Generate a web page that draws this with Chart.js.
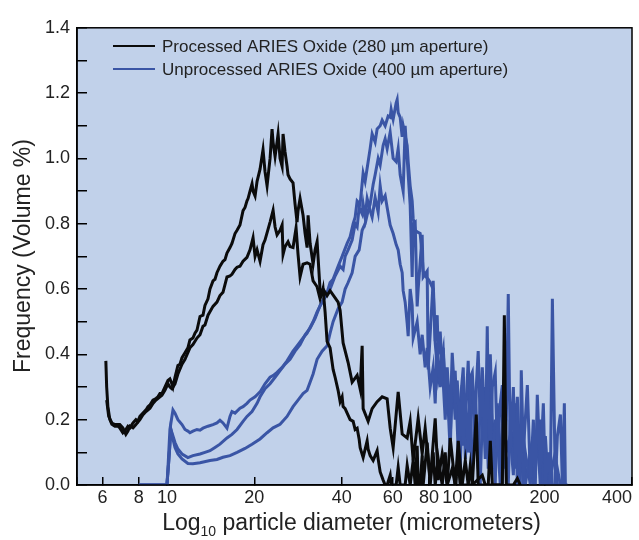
<!DOCTYPE html>
<html>
<head>
<meta charset="utf-8">
<script src="https://cdn.jsdelivr.net/npm/chart.js@4/dist/chart.umd.min.js"></script>
<style>
  html, body { margin: 0; padding: 0; background: #fff; }
  canvas { display: block; }
</style>
</head>
<body>
<canvas id="grafico" width="639" height="540"></canvas>
<script>
"use strict"

// [diametro (µm), frecuencia (% volumen)]
const procesado1 = [[6.16,0.38],[6.2,0.30],[6.26,0.24],[6.36,0.20],[6.46,0.186],[6.62,0.18],[6.78,0.18],[6.88,0.175],[7.05,0.16],[7.22,0.17],[7.34,0.18],[7.46,0.175],[7.64,0.19],[7.82,0.2],[7.94,0.195],[8.07,0.21],[8.27,0.22],[8.47,0.23],[8.6,0.24],[8.74,0.245],[8.95,0.26],[9.17,0.265],[9.31,0.27],[9.46,0.28],[9.61,0.28],[9.84,0.30],[10.08,0.32],[10.24,0.325],[10.4,0.31],[10.49,0.30],[10.66,0.33],[10.91,0.366],[11.09,0.37],[11.27,0.39],[11.54,0.405],[11.81,0.42],[12.0,0.444],[12.29,0.45],[12.49,0.465],[12.69,0.474],[13.0,0.516],[13.31,0.52],[13.52,0.55],[13.85,0.57],[14.07,0.6],[14.41,0.625],[14.64,0.63],[14.87,0.65],[15.23,0.67],[15.6,0.685],[15.85,0.69],[16.1,0.71],[16.49,0.727],[16.75,0.74],[17.16,0.77],[17.44,0.78],[17.85,0.796],[18.29,0.84],[18.58,0.85],[18.87,0.87],[19.03,0.877],[19.33,0.9],[19.64,0.922],[19.8,0.9],[20.12,0.885],[20.44,0.93],[20.93,0.967],[21.43,1.027],[21.77,0.96],[22.13,0.916],[22.66,1.0],[23.02,1.09],[23.21,1.05],[23.58,1.006],[23.95,1.05],[24.15,1.075],[24.53,1.0],[24.93,0.976],[25.12,1.075],[25.52,1.02],[25.93,0.976],[26.13,0.95],[26.55,0.937],[27.19,0.925],[27.63,0.86],[28.07,0.805],[28.29,0.84],[28.75,0.877],[29.44,0.826],[29.92,0.77],[30.4,0.727],[30.64,0.826],[31.13,0.74],[31.88,0.676],[32.39,0.72],[32.91,0.745],[33.7,0.595],[34.24,0.586],[34.51,0.6],[35.06,0.53],[35.62,0.44],[36.48,0.42],[37.36,0.354],[37.96,0.33],[38.87,0.29],[39.5,0.255],[40.13,0.27],[40.45,0.24],[41.1,0.234],[41.76,0.22],[42.76,0.2],[43.8,0.195],[44.5,0.17],[45.21,0.174],[45.94,0.14],[46.3,0.114],[47.41,0.084],[48.17,0.11],[48.94,0.135],[49.33,0.11],[50.12,0.09],[51.33,0.075],[52.15,0.09],[52.98,0.105],[53.41,0.08],[54.27,0.04],[55.57,0.015],[56.46,0],[57.36,0],[58.75,0.03],[59.21,0],[61.61,0],[62.6,0.054],[63.6,0],[66.17,0],[67.23,0.06],[68.85,0],[70.51,0.075],[71.64,0],[72.78,0.12],[73.36,0],[74.53,0],[75.73,0.09],[76.33,0],[78.79,0.13],[80.7,0],[82.64,0.1],[83.97,0],[86.0,0.08],[88.78,0],[90.92,0.1],[92.37,0],[96.1,0.05],[98.4,0],[100.8,0.07],[102.4,0],[109.1,0],[110.9,0.06],[112.7,0],[122.0,0.03],[124.9,0],[140.7,0]];

const procesado2 = [[6.2,0.26],[6.3,0.21],[6.46,0.19],[6.62,0.185],[6.88,0.185],[7.05,0.175],[7.22,0.155],[7.34,0.165],[7.46,0.18],[7.64,0.175],[7.82,0.185],[8.07,0.2],[8.27,0.215],[8.47,0.225],[8.74,0.235],[8.95,0.25],[9.17,0.26],[9.46,0.27],[9.61,0.275],[9.84,0.29],[10.08,0.31],[10.24,0.3],[10.4,0.295],[10.66,0.31],[10.91,0.34],[11.27,0.37],[11.54,0.385],[12.0,0.42],[12.29,0.43],[12.69,0.45],[13.0,0.46],[13.31,0.486],[13.52,0.49],[13.85,0.52],[14.41,0.547],[14.87,0.56],[15.23,0.58],[15.6,0.59],[16.1,0.637],[16.49,0.64],[16.75,0.645],[17.16,0.66],[17.44,0.667],[17.85,0.67],[18.29,0.685],[18.87,0.697],[19.33,0.72],[19.8,0.757],[20.12,0.7],[20.44,0.72],[20.93,0.685],[21.43,0.736],[21.77,0.75],[22.66,0.805],[23.21,0.841],[23.58,0.79],[23.95,0.766],[24.53,0.78],[24.93,0.796],[25.12,0.706],[25.52,0.73],[26.13,0.745],[26.55,0.73],[27.19,0.727],[27.85,0.787],[28.29,0.706],[28.75,0.637],[29.44,0.676],[30.4,0.68],[31.13,0.676],[31.88,0.625],[32.91,0.607],[33.7,0.57],[34.51,0.6],[35.62,0.58],[36.48,0.595],[38.87,0.56],[39.5,0.535],[40.45,0.435],[42.09,0.375],[43.45,0.315],[45.21,0.336],[46.3,0.294],[47.04,0.426],[47.41,0.234],[49.33,0.195],[50.92,0.234],[52.98,0.255],[55.13,0.27],[57.36,0.264],[58.75,0.174],[60.16,0.114],[62.6,0.285],[64.62,0.156],[67.23,0.144],[68.85,0.195],[70.51,0.075],[73.36,0.204],[75.73,0.096],[77.55,0.174],[80.7,0.015],[83.97,0.204],[86.0,0.015],[88.78,0.096],[92.37,0],[94.6,0.144],[98.4,0],[100.8,0.135],[104.0,0],[106.6,0.075],[109.1,0],[112.7,0],[116.3,0.216],[118.1,0],[127.9,0],[130.0,0.135],[132.1,0],[143.0,0],[145.3,0.52],[147.6,0],[156.1,0],[161.1,0.02],[164.9,0]];

const sinProcesar1 = [[8.0,0],[10.0,0],[10.08,0.05],[10.24,0.17],[10.49,0.23],[10.66,0.22],[10.91,0.2],[11.27,0.185],[11.54,0.17],[11.81,0.165],[12.0,0.16],[12.29,0.165],[12.69,0.17],[13.0,0.168],[13.31,0.174],[13.85,0.18],[14.41,0.185],[14.87,0.19],[15.23,0.198],[15.6,0.19],[16.1,0.174],[16.49,0.21],[16.75,0.225],[17.16,0.22],[17.85,0.235],[18.29,0.24],[18.87,0.25],[19.33,0.26],[20.12,0.27],[20.93,0.285],[21.77,0.31],[22.66,0.33],[23.21,0.335],[23.95,0.345],[24.93,0.36],[25.93,0.38],[27.19,0.41],[28.29,0.43],[29.44,0.45],[30.4,0.465],[31.88,0.5],[32.91,0.53],[34.24,0.56],[35.62,0.59],[36.48,0.62],[37.36,0.63],[38.87,0.67],[40.13,0.7],[41.76,0.74],[42.76,0.76],[43.8,0.8],[44.5,0.82],[45.21,0.87],[46.3,0.86],[47.41,0.955],[48.17,0.93],[49.33,0.99],[50.12,1.03],[50.92,1.075],[52.15,1.05],[52.98,1.09],[54.27,1.1],[55.13,1.117],[56.46,1.1],[57.82,1.13],[58.75,1.126],[59.21,1.15],[60.16,1.12],[61.61,1.17],[62.1,1.18],[62.6,1.14],[63.6,1.126],[64.62,1.066],[65.13,1.1],[66.17,1.07],[67.23,1.04],[67.77,0.99],[68.85,0.916],[69.95,0.87],[70.51,0.817],[71.64,0.78],[72.78,0.775],[74.53,0.77],[75.73,0.7],[76.33,0.655],[77.55,0.64],[79.43,0.63],[80.7,0.62],[82.64,0.6],[83.97,0.44],[85.31,0.52],[86.0,0.4],[87.38,0.47],[88.78,0.35],[89.49,0.42],[90.92,0.3],[92.37,0.36],[94.6,0.2],[96.1,0.405],[98.4,0.25],[100.0,0.32],[102.4,0.15],[104.0,0.306],[104.9,0.12],[106.6,0.28],[109.1,0.1],[110.9,0.33],[112.7,0.345],[115.4,0.15],[116.3,0.3],[118.1,0.41],[120.0,0.2],[122.0,0.3],[124.9,0.08],[126.9,0.486],[127.9,0.25],[130.0,0.1],[132.1,0.3],[135.2,0.345],[137.4,0.1],[140.7,0.25],[143.0,0.306],[145.3,0.05],[147.6,0.2],[149.9,0.585],[152.3,0.1],[156.1,0.3],[158.5,0.05],[161.1,0.2],[164.9,0],[166.2,0.351],[168.9,0.1],[171.6,0.2],[174.4,0.306],[178.6,0.02],[182.9,0.15],[185.8,0],[188.7,0.276],[193.3,0.05],[198.0,0.25],[201.2,0],[206.0,0.1],[209.3,0],[212.7,0.57],[217.8,0],[221.3,0.15],[226.7,0.216],[230.3,0],[233.9,0.25],[235.8,0],[239.5,0]];

const sinProcesar2 = [[8.0,0],[10.0,0],[10.16,0.08],[10.32,0.17],[10.49,0.15],[10.66,0.13],[10.91,0.11],[11.27,0.095],[11.81,0.084],[12.29,0.09],[13.0,0.095],[13.52,0.1],[14.07,0.105],[14.64,0.115],[15.23,0.125],[16.1,0.144],[16.75,0.155],[17.44,0.17],[18.29,0.195],[18.87,0.21],[19.64,0.225],[20.44,0.25],[20.93,0.27],[21.77,0.295],[22.66,0.31],[23.58,0.33],[24.53,0.35],[25.52,0.37],[26.55,0.385],[27.63,0.41],[28.75,0.43],[29.92,0.46],[31.13,0.48],[32.39,0.51],[33.7,0.55],[35.06,0.575],[36.48,0.6],[37.96,0.64],[39.5,0.67],[40.45,0.66],[41.1,0.7],[42.09,0.72],[43.45,0.75],[44.5,0.8],[45.21,0.79],[45.94,0.85],[47.04,0.83],[47.41,0.86],[48.17,0.82],[48.94,0.877],[50.12,0.84],[50.92,0.82],[52.15,0.88],[53.41,0.835],[54.27,0.916],[55.13,0.87],[56.46,0.886],[57.36,0.85],[58.75,0.796],[60.16,0.77],[61.61,0.736],[62.6,0.72],[63.6,0.676],[64.62,0.65],[65.13,0.595],[66.17,0.56],[67.23,0.495],[67.77,0.456],[68.85,0.6],[69.95,0.55],[70.51,0.45],[72.78,0.5],[74.53,0.4],[75.73,0.46],[77.55,0.36],[78.79,0.42],[80.7,0.3],[82.64,0.36],[83.97,0.25],[85.31,0.435],[87.38,0.3],[88.78,0.37],[90.92,0.2],[92.37,0.33],[94.6,0.15],[96.1,0.28],[98.4,0.35],[100.8,0.1],[102.4,0.25],[104.9,0.36],[106.6,0.08],[109.1,0.2],[110.9,0.1],[112.7,0.3],[115.4,0.2],[118.1,0.05],[120.0,0.26],[122.0,0.36],[124.9,0.15],[127.9,0.1],[130.0,0.264],[132.1,0.05],[135.2,0.2],[137.4,0.15],[140.7,0],[143.0,0.2],[145.3,0.33],[147.6,0.1],[152.3,0.15],[156.1,0.03],[158.5,0.25],[161.1,0],[164.9,0.15],[168.9,0],[171.6,0.1],[178.6,0],[182.9,0.2],[185.8,0.05],[193.3,0.2],[198.0,0],[206.0,0],[209.3,0.1],[212.7,0],[217.8,0],[221.3,0.05],[226.7,0],[239.5,0]];

const sinProcesar3 = [[8.0,0],[10.0,0],[10.16,0.08],[10.32,0.17],[10.49,0.14],[10.66,0.115],[10.91,0.095],[11.27,0.08],[11.81,0.066],[12.29,0.065],[13.0,0.068],[14.07,0.075],[14.87,0.078],[15.6,0.085],[16.49,0.09],[17.44,0.1],[18.58,0.112],[19.64,0.125],[20.93,0.141],[22.13,0.16],[23.21,0.175],[24.53,0.186],[25.93,0.21],[27.19,0.24],[28.29,0.26],[29.44,0.28],[30.4,0.29],[31.88,0.34],[32.91,0.385],[34.24,0.41],[35.62,0.426],[36.48,0.465],[37.36,0.5],[38.87,0.54],[40.13,0.56],[41.1,0.6],[42.09,0.62],[43.45,0.65],[44.5,0.7],[45.94,0.72],[47.04,0.78],[48.17,0.8],[49.33,0.84],[50.12,0.86],[51.33,0.92],[52.15,0.95],[53.41,1.0],[54.27,0.98],[55.57,1.04],[56.46,1.06],[57.36,1.03],[58.75,1.08],[60.16,1.0],[61.61,0.99],[62.6,1.03],[63.6,0.95],[65.13,0.9],[66.17,1.1],[67.23,1.0],[68.85,0.856],[69.95,0.637],[70.51,0.8],[71.64,0.805],[72.78,0.547],[73.36,0.6],[75.73,0.766],[76.33,0.637],[78.79,0.655],[79.43,0.354],[82.64,0.625],[83.97,0.435],[86.0,0.324],[89.49,0.414],[90.92,0.25],[92.37,0.3],[94.6,0.1],[96.1,0.35],[98.4,0.2],[100.0,0.3],[102.4,0.05],[104.0,0.25],[106.6,0.2],[109.1,0.38],[110.9,0.15],[112.7,0.05],[115.4,0.264],[118.1,0.1],[120.0,0],[122.0,0.2],[124.9,0.3],[127.9,0.05],[130.0,0.4],[132.1,0.2],[135.2,0],[137.4,0.25],[140.7,0.1],[143.0,0],[145.3,0.15],[149.9,0],[152.3,0.2],[156.1,0.1],[161.1,0.27],[164.9,0.05],[168.9,0.2],[171.6,0],[178.6,0.1],[182.9,0],[188.7,0.15],[193.3,0],[201.2,0.15],[206.0,0],[217.8,0.1],[221.3,0],[233.9,0]];

const ticksX = [6, 8, 10, 20, 40, 60, 80, 100, 200, 400];
const leyenda = ['Processed ARIES Oxide (280 \u00b5m aperture)', 'Unprocessed ARIES Oxide (400 \u00b5m aperture)'];

const colorNegro = '#0b0b0b';
const colorAzul = '#3a55a5';
const colorFondo = 'rgb(193,209,234)';
const fuente = "'Liberation Sans', Arial, Helvetica, sans-serif";

const serie = (datos, color) => ({
    data: datos.map(([x, y]) => ({ x, y })),
    borderColor: color,
    borderWidth: 3,
    pointRadius: 0,
    tension: 0,
    fill: false
});

// fondo celeste del area de grafico
const fondo = {
    id: 'fondo',
    beforeDraw(chart) {
        const { ctx, chartArea: a } = chart;
        ctx.save();
        ctx.fillStyle = '#fff';
        ctx.fillRect(0, 0, chart.width, chart.height);
        ctx.fillStyle = colorFondo;
        ctx.fillRect(a.left, a.top, a.right - a.left, a.bottom - a.top);
        ctx.restore();
    }
};

// marco, leyenda y titulos de ejes
const marco = {
    id: 'marco',
    afterDraw(chart) {
        const { ctx, chartArea: a } = chart;
        ctx.save();
        ctx.strokeStyle = '#000';
        ctx.lineWidth = 1.5;
        ctx.strokeRect(a.left, a.top, a.right - a.left, a.bottom - a.top);

        // leyenda
        [colorNegro, colorAzul].forEach((c, i) => {
            const y = 46 + i * 23;
            ctx.strokeStyle = c;
            ctx.lineWidth = 2;
            ctx.beginPath();
            ctx.moveTo(113, y);
            ctx.lineTo(155, y);
            ctx.stroke();
            ctx.fillStyle = '#222';
            ctx.font = '17px ' + fuente;
            ctx.textBaseline = 'middle';
            ctx.textAlign = 'left';
            ctx.fillText(leyenda[i], 162, y + 1);
        });

        // titulo eje y
        ctx.fillStyle = '#222';
        ctx.font = '23px ' + fuente;
        ctx.textAlign = 'center';
        ctx.textBaseline = 'middle';
        ctx.save();
        ctx.translate(24, 256);
        ctx.rotate(-Math.PI / 2);
        ctx.fillText('Frequency (Volume %)', 0, 0);
        ctx.restore();

        // titulo eje x con subindice
        const partes = ['Log', '10', ' particle diameter (micrometers)'];
        ctx.textAlign = 'left';
        ctx.textBaseline = 'alphabetic';
        ctx.font = '23px ' + fuente;
        const w0 = ctx.measureText(partes[0]).width;
        const w2 = ctx.measureText(partes[2]).width;
        ctx.font = '14px ' + fuente;
        const w1 = ctx.measureText(partes[1]).width;
        let x = (a.left + a.right) / 2 - (w0 + w1 + w2) / 2 - 3;
        const base = 530;
        ctx.font = '23px ' + fuente;
        ctx.fillText(partes[0], x, base);
        x += w0;
        ctx.font = '14px ' + fuente;
        ctx.fillText(partes[1], x, base + 6);
        x += w1;
        ctx.font = '23px ' + fuente;
        ctx.fillText(partes[2], x, base);
        ctx.restore();
    }
};

const ctx = document.getElementById('grafico');

new Chart(ctx, {
    type: 'line',
    data: {
        datasets: [
            serie(procesado1, colorNegro),
            serie(procesado2, colorNegro),
            serie(sinProcesar1, colorAzul),
            serie(sinProcesar2, colorAzul),
            serie(sinProcesar3, colorAzul)
        ]
    },
    options: {
        responsive: false,
        animation: false,
        layout: { padding: { left: 0, right: 7, top: 19, bottom: 0 } },
        plugins: { legend: { display: false }, tooltip: { enabled: false } },
        scales: {
            x: {
                type: 'logarithmic',
                min: 4.9,
                max: 400,
                afterBuildTicks: s => { s.ticks = [4.9, ...ticksX].map(v => ({ value: v })); },
                afterFit: s => { s.height = 55; s.paddingLeft = 0; s.paddingRight = 0; },
                ticks: {
                    autoSkip: false,
                    maxRotation: 0,
                    align: 'inner',
                    padding: 10,
                    color: '#222',
                    font: { family: fuente, size: 18 },
                    callback: v => ticksX.includes(v) ? String(v) : ''
                },
                grid: { drawOnChartArea: false, tickLength: -8, color: '#000', lineWidth: 1.5 },
                border: { color: '#000', width: 1.5 }
            },
            y: {
                min: 0,
                max: 1.4,
                afterFit: s => { s.width = 77; },
                ticks: {
                    stepSize: 0.1,
                    padding: 17,
                    color: '#222',
                    font: { family: fuente, size: 18 },
                    callback: v => Math.round(v * 10) % 2 === 0 ? v.toFixed(1) : ''
                },
                grid: { drawOnChartArea: false, tickLength: -10, color: '#000', lineWidth: 1.5 },
                border: { color: '#000', width: 1.5 }
            }
        }
    },
    plugins: [fondo, marco]
});
</script>
</body>
</html>
